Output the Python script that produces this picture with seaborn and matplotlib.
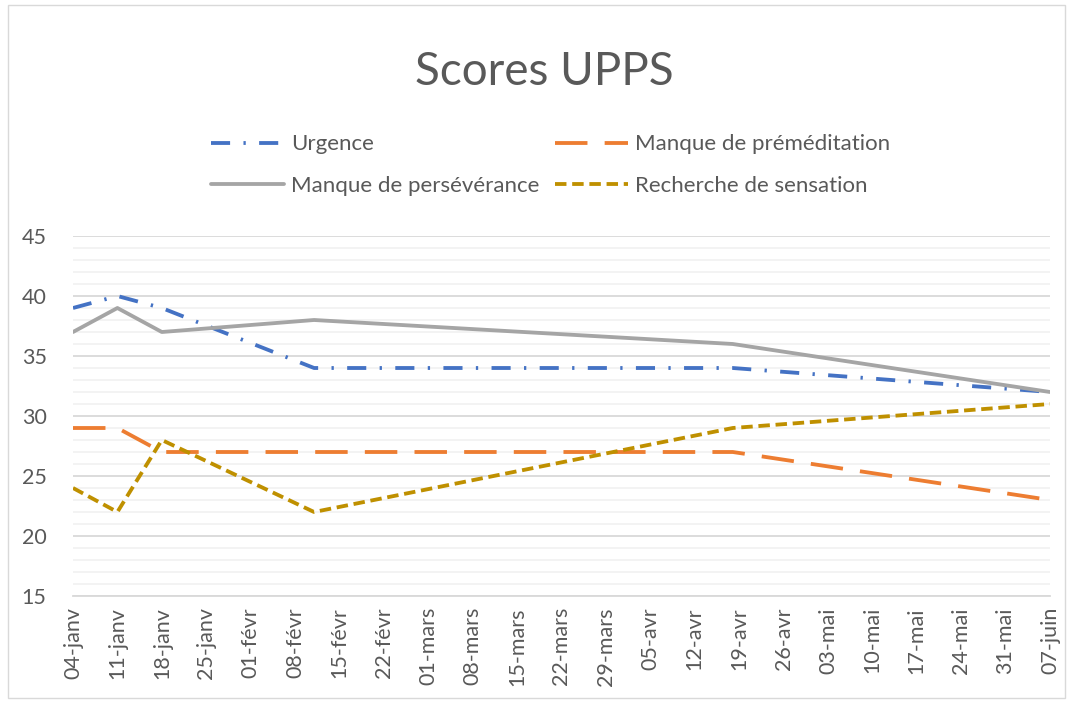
import matplotlib
matplotlib.use("Agg")
import matplotlib.pyplot as plt
from matplotlib.patches import Rectangle
import seaborn as sns
import pandas as pd

# data
dates = ["2021-01-04", "2021-01-11", "2021-01-18", "2021-02-11", "2021-04-18", "2021-06-07"]
urgence = [39, 40, 39, 34, 34, 32]
premeditation = [29, 29, 27, 27, 27, 23]
perseverance = [37, 39, 37, 38, 36, 32]
sensation = [24, 22, 28, 22, 29, 31]

series = [
    ("Urgence", urgence, "#4472C4", (0, (5, 3.5, 0.6, 3.5))),
    ("Manque de préméditation", premeditation, "#ED7D31", (0, (8.5, 4.5))),
    ("Manque de persévérance", perseverance, "#A5A5A5", "-"),
    ("Recherche de sensation", sensation, "#BF9000", (0, (3, 1.5))),
]

mois = {1: "janv", 2: "févr", 3: "mars", 4: "avr", 5: "mai", 6: "juin"}
tick_dates = pd.date_range("2021-01-04", "2021-06-07", freq="7D")
tick_labels = [f"{d.day:02d}-{mois[d.month]}" for d in tick_dates]

sns.set_style("white")
plt.rcParams["font.family"] = ["Lato", "DejaVu Sans"]
text_col = "#595959"

fig = plt.figure(figsize=(10.73, 7.02), dpi=100)
ax = fig.add_axes([73 / 1073, 1 - 596 / 702, (1050 - 73) / 1073, (596 - 236) / 702])

x = pd.to_datetime(dates)
for name, vals, col, ls in series:
    sns.lineplot(x=x, y=vals, ax=ax, color=col, linestyle=ls, linewidth=2.75,
                 label=name, legend=False)

ax.set_xlim(tick_dates[0], tick_dates[-1])
ax.set_ylim(15, 45)
ax.set_yticks(range(15, 46, 5))
ax.set_yticks(range(15, 46, 1), minor=True)
ax.grid(which="major", axis="y", color="#D9D9D9", linewidth=1.3)
ax.grid(which="minor", axis="y", color="#F2F2F2", linewidth=1.3)
ax.set_axisbelow(True)
ax.set_xticks(tick_dates)
ax.set_xticklabels(tick_labels, rotation=90, fontsize=15.5, color=text_col)
ax.tick_params(axis="y", which="both", length=0, labelsize=15.5, labelcolor=text_col, pad=19)
ax.tick_params(axis="x", length=5, color="#D9D9D9", pad=3)
for s in ["top", "right", "left"]:
    ax.spines[s].set_visible(False)
ax.spines["bottom"].set_color("#D9D9D9")
ax.spines["bottom"].set_linewidth(1.3)
ax.set_xlabel("")
ax.set_ylabel("")

fig.text(0.507, 0.898, "Scores UPPS", ha="center", va="center", fontsize=33,
         color=text_col)

# Excel fills the legend row by row
handles, labels = ax.get_legend_handles_labels()
order = [0, 2, 1, 3]
fig.legend([handles[i] for i in order], [labels[i] for i in order], ncol=2,
           loc="center", bbox_to_anchor=(0.513, 0.765),
           frameon=False, fontsize=16, labelcolor=text_col, handlelength=3.3,
           columnspacing=0.7, handletextpad=0.3, labelspacing=0.95)

fig.patches.append(Rectangle((8 / 1073, 0.005), 1 - 16 / 1073, 1 - 0.012,
                             transform=fig.transFigure, fill=False,
                             edgecolor="#D9D9D9", linewidth=1))

fig.savefig("out.png", dpi=100)
